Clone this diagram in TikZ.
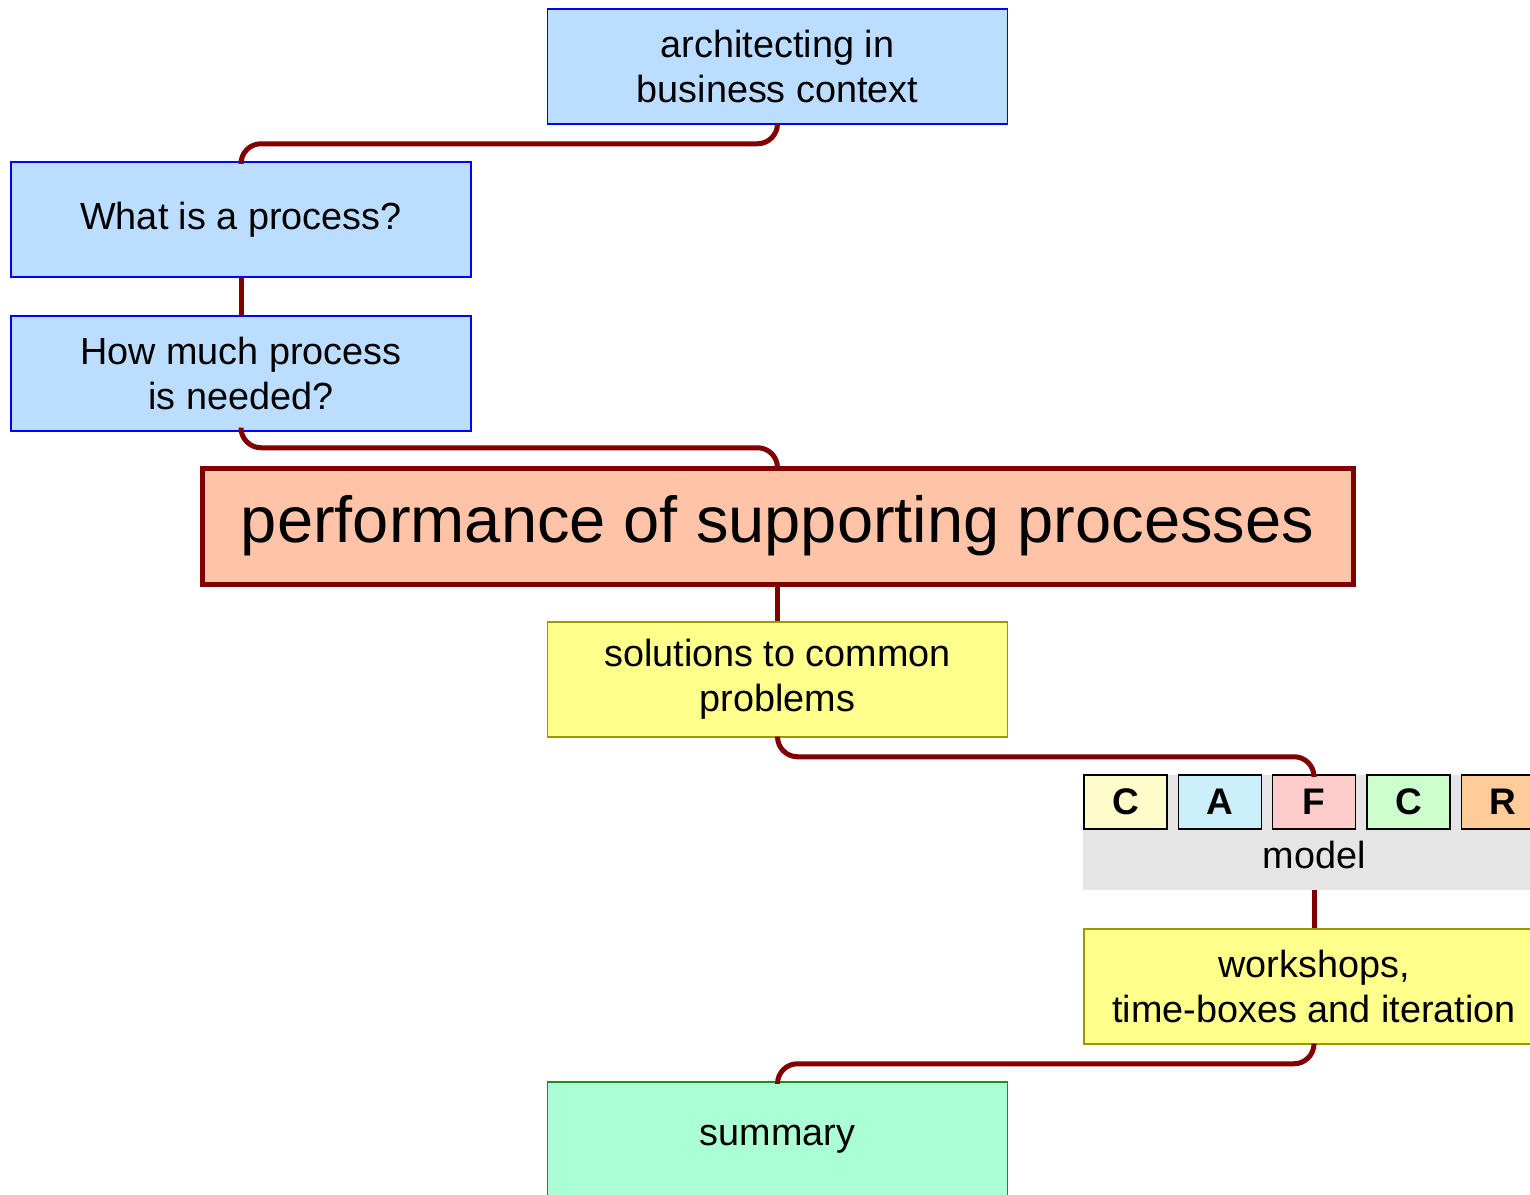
\documentclass[tikz,border=0pt]{standalone}
\usepackage{fontspec}
\setmainfont{Liberation Sans}
\usepackage{xcolor}
\definecolor{link_red}{HTML}{800000}
\definecolor{light_blue}{HTML}{BBDDFF}
\definecolor{salmon}{HTML}{FFC4A8}
\definecolor{pale_yellow}{HTML}{FFFF8C}
\definecolor{olive_line}{HTML}{999900}
\definecolor{mint}{HTML}{AAFFD4}
\definecolor{dark_green}{HTML}{228B22}
\definecolor{model_gray}{HTML}{E5E5E5}

\begin{document}
\begin{tikzpicture}[x=0.5pt,y=-0.5pt,
    box/.style={draw=blue, line width=0.75pt, fill=light_blue, minimum width=230pt, minimum height=57.5pt,
      align=center, inner sep=0pt, font=\fontsize{18.9}{22.5}\selectfont},
    yellowbox/.style={box, draw=olive_line, fill=pale_yellow},
    greenbox/.style={box, draw=dark_green, fill=mint},
    letter/.style={draw=black, line width=0.75pt, minimum width=41.5pt, minimum height=27pt, inner sep=0pt,
      font=\fontsize{18.5}{18.5}\selectfont\bfseries},
    link/.style={link_red, line width=2.5pt, rounded corners=10pt}]
        % Cadre
        \useasboundingbox (0,0) rectangle (1530,1194);
        \clip (0,0) rectangle (1530,1194);
        % Boites du haut
        \node[box] (arch) at (777.5,66.5) {architecting in\\business context};
        \node[box] (what) at (241,219.5) {What is a process?};
        \node[box] (how) at (241,373.5) {How much process\\is needed?};
        % Titre
        \node[draw=link_red, line width=2.5pt, fill=salmon, minimum width=575.5pt, minimum height=58pt, inner sep=0pt,
          font=\fontsize{32.5}{38}\selectfont] (perf) at (777.5,526) {performance of supporting processes};
        % Boites du bas
        \node[yellowbox] (sol) at (777.5,679.5) {solutions to common\\problems};
        \node[fill=model_gray, minimum width=231pt, minimum height=57.5pt, inner sep=0pt] (modelbg) at (1314,832.5) {};
        \node[font=\fontsize{18.9}{22.5}\selectfont] (modeltext) at (1314,855) {model};
        \node[letter, fill=yellow!20] (c1) at (1125.5,802) {C};
        \node[letter, fill=cyan!20] (a) at (1220,802) {A};
        \node[letter, fill=red!20] (f) at (1314,802) {F};
        \node[letter, fill=green!20] (c2) at (1408.5,802) {C};
        \node[letter, fill=orange!40] (r) at (1503,802) {R};
        \node[yellowbox] (work) at (1314,986.5) {workshops,\\time-boxes and iteration};
        \node[greenbox] (sum) at (777.5,1139.5) {summary};
        % Liens
        \draw[link] (arch.south) -- ++(0,19) -| (what.north);
        \draw[link] (what.south) -- (how.north);
        \draw[link] (how.south) -- ++(0,16) -| (perf.north);
        \draw[link] (perf.south) -- (sol.north);
        \draw[link] (sol.south) -- ++(0,19) -| (f.north);
        \draw[link] (modelbg.south) -- (work.north);
        \draw[link] (work.south) -- ++(0,19) -| (sum.north);
    \end{tikzpicture}
\end{document}
